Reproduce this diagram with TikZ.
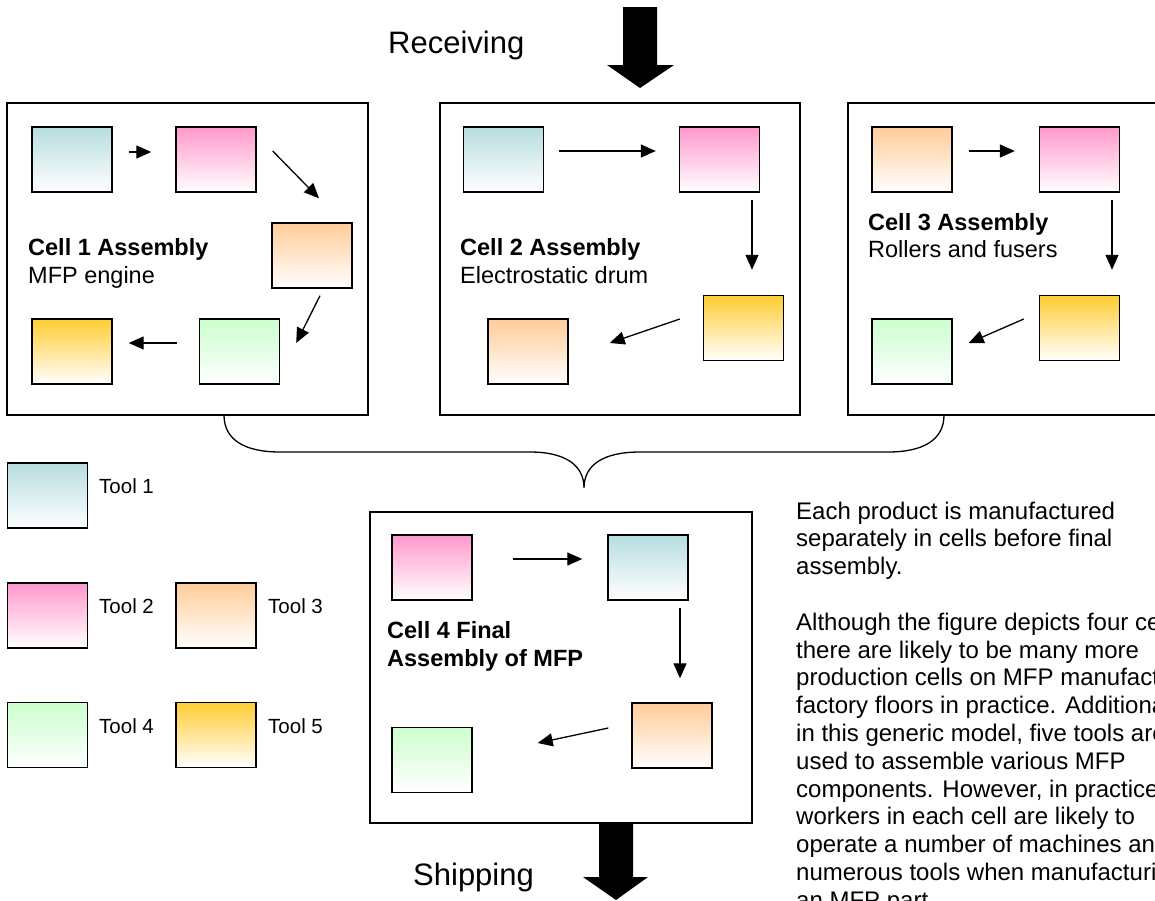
\documentclass[tikz,border=0pt]{standalone}
\usepackage{fontspec}
\setmainfont{Liberation Sans}
\usetikzlibrary{arrows.meta}
\definecolor{toolA}{HTML}{B7DDE0}
\definecolor{toolB}{HTML}{FF99CC}
\definecolor{toolC}{HTML}{FFCC99}
\definecolor{toolD}{HTML}{CCFFCC}
\definecolor{toolE}{HTML}{FFCC33}
\begin{document}
\begin{tikzpicture}[x=1pt,y=-1pt,
  toolbox/.style={draw, line width=1.4pt, minimum width=80pt, minimum height=65pt, inner sep=0pt, top color=#1, bottom color=white},
  cellframe/.style={draw, line width=1.4pt},
  flow/.style={line width=1.3pt, -{Triangle[length=15pt,width=13pt]}},
  bigarrow/.style={fill=black},
  celltitle/.style={anchor=base west, font=\fontsize{23.5}{28}\selectfont\bfseries, inner sep=0pt},
  cellsub/.style={anchor=base west, font=\fontsize{23.5}{28}\selectfont, inner sep=0pt},
  toollabel/.style={anchor=base west, font=\fontsize{20.5}{24}\selectfont, inner sep=0pt},
  bigtext/.style={anchor=base west, font=\fontsize{31}{37}\selectfont, inner sep=0pt},
  notetext/.style={anchor=base west, font=\fontsize{24}{28}\selectfont, inner sep=0pt}
]
\useasboundingbox (0,0) rectangle (1155,900);
\clip (0,0) rectangle (1155,900);

% cell frames
\draw[cellframe] (7,103) rectangle (368,415);
\draw[cellframe] (440,103) rectangle (800,415);
\draw[cellframe] (848,103) rectangle (1175,415);
\draw[cellframe] (370,512) rectangle (752,823);

% brace
\draw[line width=1.3pt] (224,415) .. controls (224,440) and (245,452) .. (280,452) -- (530,452)
  .. controls (565,452) and (584,465) .. (584,488)
  .. controls (584,465) and (603,452) .. (640,452) -- (888,452)
  .. controls (923,452) and (944,440) .. (944,415);

% big arrows
\fill[bigarrow] (623,7) -- (657,7) -- (657,65) -- (674,65) -- (640,88) -- (607,65) -- (623,65) -- cycle;
\fill[bigarrow] (599,823) -- (633,823) -- (633,877) -- (648,877) -- (616,900) -- (583,877) -- (599,877) -- cycle;
\node[bigtext] (recv) at (388,53.6) {Receiving};
\node[bigtext] (ship) at (413,885) {Shipping};

% Cell 1
\node[toolbox=toolA] (c1a) at (72,159.5) {};
\node[toolbox=toolB] (c1b) at (216,159.5) {};
\node[toolbox=toolC] (c1c) at (312,255.5) {};
\node[toolbox=toolD] (c1d) at (239.5,351.5) {};
\node[toolbox=toolE] (c1e) at (72,351.5) {};
\draw[flow] ([xshift=16pt,yshift=7.5pt]c1a.east) -- ([xshift=-24pt,yshift=7.5pt]c1b.west);
\draw[flow] ([xshift=16pt,yshift=8.5pt]c1b.east) -- ([xshift=7pt,yshift=24pt]c1c.north);
\draw[flow] ([xshift=8pt,yshift=-7pt]c1c.south) -- ([xshift=16pt,yshift=8.5pt]c1d.east);
\draw[flow] ([xshift=-22pt,yshift=8.5pt]c1d.west) -- ([xshift=16pt,yshift=8.5pt]c1e.east);
\node[celltitle] (t1) at (28,255) {Cell 1 Assembly};
\node[cellsub] (s1) at (28,283) {MFP engine};

% Cell 2
\node[toolbox=toolA] (c2a) at (503.5,159.5) {};
\node[toolbox=toolB] (c2b) at (719.5,159.5) {};
\node[toolbox=toolE] (c2c) at (743.5,328) {};
\node[toolbox=toolC] (c2d) at (528,351.5) {};
\draw[flow] ([xshift=15pt,yshift=8.5pt]c2a.east) -- ([xshift=-23pt,yshift=8.5pt]c2b.west);
\draw[flow] ([xshift=32.5pt,yshift=-7pt]c2b.south) -- ([xshift=8.5pt,yshift=25pt]c2c.north);
\draw[flow] ([xshift=-23pt,yshift=9pt]c2c.west) -- ([xshift=41pt,yshift=8.5pt]c2d.east);
\node[celltitle] (t2) at (460,255) {Cell 2 Assembly};
\node[cellsub] (s2) at (460,283) {Electrostatic drum};

% Cell 3
\node[toolbox=toolC] (c3a) at (912,159.5) {};
\node[toolbox=toolB] (c3b) at (1079.5,159.5) {};
\node[toolbox=toolE] (c3c) at (1079.5,328) {};
\node[toolbox=toolD] (c3d) at (912,351.5) {};
\draw[flow] ([xshift=16pt,yshift=8.5pt]c3a.east) -- ([xshift=-24pt,yshift=8.5pt]c3b.west);
\draw[flow] ([xshift=32.5pt,yshift=-7pt]c3b.south) -- ([xshift=32.5pt,yshift=25pt]c3c.north);
\draw[flow] ([xshift=-15pt,yshift=9pt]c3c.west) -- ([xshift=16pt,yshift=8.5pt]c3d.east);
\node[celltitle] (t3) at (868,230) {Cell 3 Assembly};
\node[cellsub] (s3) at (868,257) {Rollers and fusers};

% Cell 4
\node[toolbox=toolB] (c4a) at (432,567.5) {};
\node[toolbox=toolA] (c4b) at (648,567.5) {};
\node[toolbox=toolC] (c4c) at (672,735.5) {};
\node[toolbox=toolD] (c4d) at (432,760) {};
\draw[flow] ([xshift=40pt,yshift=8.5pt]c4a.east) -- ([xshift=-25pt,yshift=8.5pt]c4b.west);
\draw[flow] ([xshift=32pt,yshift=-7pt]c4b.south) -- ([xshift=8pt,yshift=24pt]c4c.north);
\draw[flow] ([xshift=-23pt,yshift=7.5pt]c4c.west) -- ([xshift=65pt,yshift=17pt]c4d.east);
\node[celltitle] (t4a) at (387,638) {Cell 4 Final};
\node[celltitle] (t4b) at (387,666) {Assembly of MFP};

% legend
\node[toolbox=toolA] (l1) at (47.5,495.5) {};
\node[toolbox=toolB] (l2) at (47.5,615.5) {};
\node[toolbox=toolC] (l3) at (216,615.5) {};
\node[toolbox=toolD] (l4) at (47.5,735) {};
\node[toolbox=toolE] (l5) at (216,735) {};
\node[toollabel] (l1t) at (99,493) {Tool 1};
\node[toollabel] (l2t) at (99,613) {Tool 2};
\node[toollabel] (l3t) at (268,613) {Tool 3};
\node[toollabel] (l4t) at (99,733) {Tool 4};
\node[toollabel] (l5t) at (268,733) {Tool 5};

% note text
\foreach \ln [count=\i] in {{Each product is manufactured},{separately in cells before final},{assembly.},{},
  {Although the figure depicts four cells,},{there are likely to be many more},{production cells on MFP manufacturers'},
  {factory floors in practice. Additionally,},{in this generic model, five tools are},{used to assemble various MFP},
  {components. However, in practice,},{workers in each cell are likely to},{operate a number of machines and},
  {numerous tools when manufacturing},{an MFP part.}}
  \node[notetext] (n\i) at (796,{519+27.8*(\i-1)}) {\ln};
\end{tikzpicture}
\end{document}
